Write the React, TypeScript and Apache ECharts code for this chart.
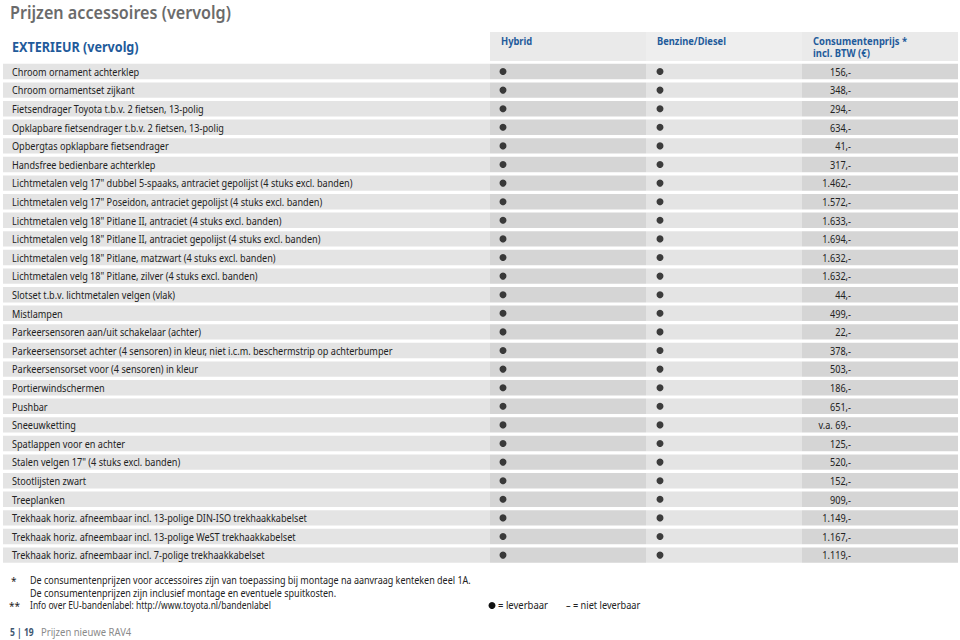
import React, { useEffect, useRef } from "react";
import * as echarts from "echarts";

const ITEMS: string[] = [
  "Chroom ornament achterklep",
  "Chroom ornamentset zijkant",
  "Fietsendrager Toyota t.b.v. 2 fietsen, 13-polig",
  "Opklapbare fietsendrager t.b.v. 2 fietsen, 13-polig",
  "Opbergtas opklapbare fietsendrager",
  "Handsfree bedienbare achterklep",
  'Lichtmetalen velg 17" dubbel 5-spaaks, antraciet gepolijst (4 stuks excl. banden)',
  'Lichtmetalen velg 17" Poseidon, antraciet gepolijst (4 stuks excl. banden)',
  'Lichtmetalen velg 18" Pitlane II, antraciet (4 stuks excl. banden)',
  'Lichtmetalen velg 18" Pitlane II, antraciet gepolijst (4 stuks excl. banden)',
  'Lichtmetalen velg 18" Pitlane, matzwart (4 stuks excl. banden)',
  'Lichtmetalen velg 18" Pitlane, zilver (4 stuks excl. banden)',
  "Slotset t.b.v. lichtmetalen velgen (vlak)",
  "Mistlampen",
  "Parkeersensoren aan/uit schakelaar (achter)",
  "Parkeersensorset achter (4 sensoren) in kleur, niet i.c.m. beschermstrip op achterbumper",
  "Parkeersensorset voor (4 sensoren) in kleur",
  "Portierwindschermen",
  "Pushbar",
  "Sneeuwketting",
  "Spatlappen voor en achter",
  'Stalen velgen 17" (4 stuks excl. banden)',
  "Stootlijsten zwart",
  "Treeplanken",
  "Trekhaak horiz. afneembaar incl. 13-polige DIN-ISO trekhaakkabelset",
  "Trekhaak horiz. afneembaar incl. 13-polige WeST trekhaakkabelset",
  "Trekhaak horiz. afneembaar incl. 7-polige trekhaakkabelset",
];

const HYBRID: boolean[] = ITEMS.map(() => true);
const BENZINE: boolean[] = ITEMS.map(() => true);

const PRICES: string[] = [
  "156,-", "348,-", "294,-", "634,-", "41,-", "317,-",
  "1.462,-", "1.572,-", "1.633,-", "1.694,-", "1.632,-", "1.632,-",
  "44,-", "499,-", "22,-", "378,-", "503,-", "186,-", "651,-",
  "v.a. 69,-", "125,-", "520,-", "152,-", "909,-",
  "1.149,-", "1.167,-", "1.119,-",
];

const COLUMNS: string[] = ["Hybrid", "Benzine/Diesel", "Consumentenprijs *", "incl. BTW (€)"];

const FOOTNOTES: string[] = [
  "De consumentenprijzen voor accessoires zijn van toepassing bij montage na aanvraag kenteken deel 1A.",
  "De consumentenprijzen zijn inclusief montage en eventuele spuitkosten.",
  "Info over EU-bandenlabel: http://www.toyota.nl/bandenlabel",
];

// layout (pixels)
const X_DESC = 3, X_HYB = 490, X_BEN = 646, X_PRICE = 802, X_END = 958;
const DOT_HYB = 503, DOT_BEN = 660, PRICE_RIGHT = 851;
const FONT = "'Noto Sans', sans-serif";
const BLUE = "#1f5b9b";
const TXT_SCALE = 0.83;

export default function App() {
  const ref = useRef<HTMLDivElement>(null);
  useEffect(() => {
    if (!ref.current) return;
    const chart = echarts.init(ref.current, null, { renderer: "svg" });
    const n = ITEMS.length;
    const rowData = ITEMS.map((_, i) => [0, i]);
    const hybDots = HYBRID.map((v, i) => (v ? [DOT_HYB, i] : null)).filter(Boolean);
    const benDots = BENZINE.map((v, i) => (v ? [DOT_BEN, i] : null)).filter(Boolean);

    const option: any = {
      animation: false,
      grid: { left: 0, right: 0, top: 62.2, height: n * 18.6 },
      xAxis: { type: "value", min: 0, max: 960, show: false },
      yAxis: {
        type: "category",
        inverse: true,
        data: ITEMS,
        show: false,
      },
      series: [
        {
          type: "custom",
          data: rowData,
          z: 1,
          renderItem: (params: any, api: any) => {
            const i = api.value(1);
            const yc = api.coord([0, i])[1];
            const band = api.size([0, 1])[1];
            const h = band - 3.2;
            const top = yc - h / 2;
            const xx = (v: number) => api.coord([v, i])[0];
            const cell = (a: number, b: number, fill: string) => ({
              type: "rect",
              shape: { x: xx(a), y: top, width: xx(b) - xx(a), height: h },
              style: { fill },
            });
            return {
              type: "group",
              children: [
                cell(X_DESC, X_HYB, "#e4e4e4"),
                cell(X_HYB, X_BEN, "#d5d5d5"),
                cell(X_BEN, X_PRICE, "#e4e4e4"),
                cell(X_PRICE, X_END, "#d5d5d5"),
                {
                  type: "text",
                  x: xx(12),
                  y: yc,
                  scaleX: TXT_SCALE,
                  style: {
                    text: ITEMS[i],
                    x: 0,
                    y: 0,
                    fill: "#222",
                    font: `11px ${FONT}`,
                    align: "left",
                    verticalAlign: "middle",
                  },
                },
                {
                  type: "text",
                  x: xx(PRICE_RIGHT),
                  y: yc,
                  scaleX: TXT_SCALE,
                  style: {
                    text: PRICES[i],
                    x: 0,
                    y: 0,
                    fill: "#222",
                    font: `11px ${FONT}`,
                    align: "right",
                    verticalAlign: "middle",
                  },
                },
              ],
            };
          },
        },
        {
          type: "scatter",
          data: hybDots,
          symbol: "circle",
          symbolSize: 7,
          itemStyle: { color: "#111" },
          z: 3,
        },
        {
          type: "scatter",
          data: benDots,
          symbol: "circle",
          symbolSize: 7,
          itemStyle: { color: "#111" },
          z: 3,
        },
      ],
      graphic: [
        {
          type: "text",
          x: 10,
          y: 12,
          scaleX: 0.95,
          style: {
            text: "Prijzen accessoires (vervolg)",
            font: `600 17px ${FONT}`,
            fill: "#6b6b6b",
            verticalAlign: "middle",
          },
        },
        {
          type: "text",
          x: 12,
          y: 47,
          scaleX: 0.9,
          style: {
            text: "EXTERIEUR (vervolg)",
            font: `bold 14px ${FONT}`,
            fill: BLUE,
            verticalAlign: "middle",
          },
        },
        { type: "rect", shape: { x: X_HYB, y: 32, width: X_BEN - X_HYB, height: 29 }, style: { fill: "#eaeaea" } },
        { type: "rect", shape: { x: X_BEN, y: 32, width: X_PRICE - X_BEN, height: 29 }, style: { fill: "#eeeeee" } },
        { type: "rect", shape: { x: X_PRICE, y: 32, width: X_END - X_PRICE, height: 29 }, style: { fill: "#eaeaea" } },
        {
          type: "text", x: 501, y: 41, scaleX: 0.85,
          style: { text: COLUMNS[0], font: `bold 11px ${FONT}`, fill: BLUE, verticalAlign: "middle" },
        },
        {
          type: "text", x: 657, y: 41, scaleX: 0.85,
          style: { text: COLUMNS[1], font: `bold 11px ${FONT}`, fill: BLUE, verticalAlign: "middle" },
        },
        {
          type: "text", x: 813, y: 41, scaleX: 0.86,
          style: { text: COLUMNS[2], font: `bold 11px ${FONT}`, fill: BLUE, verticalAlign: "middle" },
        },
        {
          type: "text", x: 813, y: 53, scaleX: 0.86,
          style: { text: COLUMNS[3], font: `bold 11px ${FONT}`, fill: BLUE, verticalAlign: "middle" },
        },
        // footnotes
        {
          type: "text", x: 11, y: 581,
          style: { text: "*", font: `10px ${FONT}`, fill: "#222", verticalAlign: "middle" },
        },
        {
          type: "text", x: 30, y: 580, scaleX: 0.9,
          style: { text: FOOTNOTES[0], font: `10px ${FONT}`, fill: "#222", verticalAlign: "middle" },
        },
        {
          type: "text", x: 30, y: 593, scaleX: 0.9,
          style: { text: FOOTNOTES[1], font: `10px ${FONT}`, fill: "#222", verticalAlign: "middle" },
        },
        {
          type: "text", x: 9, y: 606,
          style: { text: "**", font: `10px ${FONT}`, fill: "#222", verticalAlign: "middle" },
        },
        {
          type: "text", x: 30, y: 605, scaleX: 0.85,
          style: { text: FOOTNOTES[2], font: `10px ${FONT}`, fill: "#222", verticalAlign: "middle" },
        },
        { type: "circle", shape: { cx: 492, cy: 605.5, r: 3.5 }, style: { fill: "#111" } },
        {
          type: "text", x: 498, y: 605, scaleX: 0.95,
          style: { text: "= leverbaar", font: `10px ${FONT}`, fill: "#222", verticalAlign: "middle" },
        },
        {
          type: "text", x: 566, y: 605, scaleX: 0.92,
          style: { text: "– = niet leverbaar", font: `10px ${FONT}`, fill: "#222", verticalAlign: "middle" },
        },
        // page footer
        {
          type: "text", x: 10, y: 632, scaleX: 0.85,
          style: { text: "5 | 19", font: `bold 10px ${FONT}`, fill: "#3d5670", verticalAlign: "middle" },
        },
        {
          type: "text", x: 41, y: 632, scaleX: 0.95,
          style: { text: "Prijzen nieuwe RAV4", font: `10px ${FONT}`, fill: "#8a8a8a", verticalAlign: "middle" },
        },
      ],
    };
    chart.setOption(option);
    return () => chart.dispose();
  }, []);
  return (
    <div
      ref={ref}
      style={{ position: "fixed", left: 0, top: 0, width: 960, height: 640, background: "#fff" }}
    />
  );
}
